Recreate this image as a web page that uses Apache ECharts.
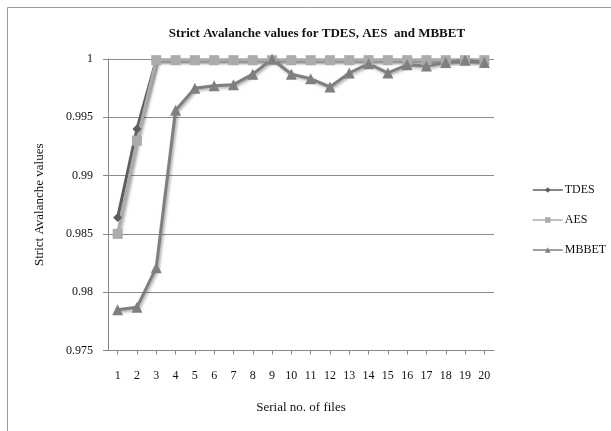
<!DOCTYPE html>
<html>
<head>
<meta charset="utf-8">
<script src="https://cdn.jsdelivr.net/npm/echarts@6/dist/echarts.min.js"></script>
<style>html,body{margin:0;padding:0;background:#fff}#c{width:611px;height:431px}</style>
</head>
<body>
<div id="c"></div>
<script>
const categories = ['1','2','3','4','5','6','7','8','9','10','11','12','13','14','15','16','17','18','19','20'];
const tdes  = [0.9864,0.9940,0.9999,0.9999,0.9999,0.9999,0.9999,0.9999,0.9999,0.9999,0.9999,0.9999,0.9999,0.9999,0.9999,0.9999,0.9999,0.9999,0.9999,0.9999];
const aes   = [0.9850,0.9930,0.9999,0.9999,0.9999,0.9999,0.9999,0.9999,0.9999,0.9999,0.9999,0.9999,0.9999,0.9999,0.9999,0.9999,0.9999,0.9999,0.9999,0.9999];
const mbbet = [0.9785,0.9787,0.9821,0.9956,0.9975,0.9977,0.9978,0.9987,1.0000,0.9987,0.9983,0.9976,0.9988,0.9996,0.9988,0.9995,0.9994,0.9997,0.9999,0.9997];
const yTicks = [0.975,0.98,0.985,0.99,0.995,1];

const font = '"Liberation Serif","DejaVu Serif",serif';
const chart = echarts.init(document.getElementById('c'), null, {renderer:'canvas'});
const shadow = {shadowColor:'rgba(0,0,0,0.35)', shadowBlur:3, shadowOffsetX:1.5, shadowOffsetY:1.5};
chart.setOption({
  animation:false,
  backgroundColor:'#fff',
  graphic:[{type:'rect', shape:{x:7.5,y:7.5,width:640,height:460}, style:{fill:'none', stroke:'#9a9a9a', lineWidth:1}}],
  title:{text:'Strict Avalanche values for TDES, AES  and MBBET', left:312, top:22, textAlign:'center',
    textStyle:{fontFamily:font, fontSize:13, fontWeight:'bold', color:'#111'}},
  grid:{left:108, right:611-494, top:59, bottom:431-350.5, containLabel:false},
  legend:{orient:'vertical', left:532, top:184, padding:0, itemGap:18, itemWidth:30, itemHeight:7,
    lineStyle:{width:1.5},
    textStyle:{fontFamily:font, fontSize:12, color:'#111', padding:[0,0,0,-3]},
    data:['TDES','AES','MBBET']},
  xAxis:{type:'category', data:categories, boundaryGap:true,
    name:'Serial no. of files', nameLocation:'middle', nameGap:51,
    nameTextStyle:{fontFamily:font, fontSize:13, color:'#111'},
    axisLine:{lineStyle:{color:'#888', width:1}},
    axisTick:{show:true, alignWithLabel:true, length:4, lineStyle:{color:'#888'}},
    axisLabel:{fontFamily:font, fontSize:12, color:'#111', margin:19, interval:0}},
  yAxis:{type:'value', min:0.975, max:1, interval:0.005,
    name:'Strict Avalanche values', nameLocation:'middle', nameGap:62,
    nameTextStyle:{fontFamily:font, fontSize:13, color:'#111'},
    axisLine:{show:true, lineStyle:{color:'#888', width:1}},
    axisTick:{show:true, length:5, lineStyle:{color:'#888'}},
    axisLabel:{fontFamily:font, fontSize:12, color:'#111', margin:15,
      formatter:v=>{const r=Math.round(v*1000)/1000; return String(r);}},
    splitLine:{show:true, lineStyle:{color:'#8c8c8c', width:1}}},
  series:[
    {name:'TDES', type:'line', data:tdes, symbol:'diamond', symbolSize:9,
      itemStyle:{color:'#5e5e5e'}, lineStyle:Object.assign({width:3, color:'#5e5e5e'}, shadow)},
    {name:'AES', type:'line', data:aes, symbol:'rect', symbolSize:10,
      itemStyle:{color:'#ababab'}, lineStyle:Object.assign({width:3, color:'#ababab'}, shadow)},
    {name:'MBBET', type:'line', data:mbbet, symbol:'triangle', symbolSize:11,
      itemStyle:{color:'#7f7f7f'}, lineStyle:Object.assign({width:3, color:'#7f7f7f'}, shadow)}
  ]
});
</script>
</body>
</html>
